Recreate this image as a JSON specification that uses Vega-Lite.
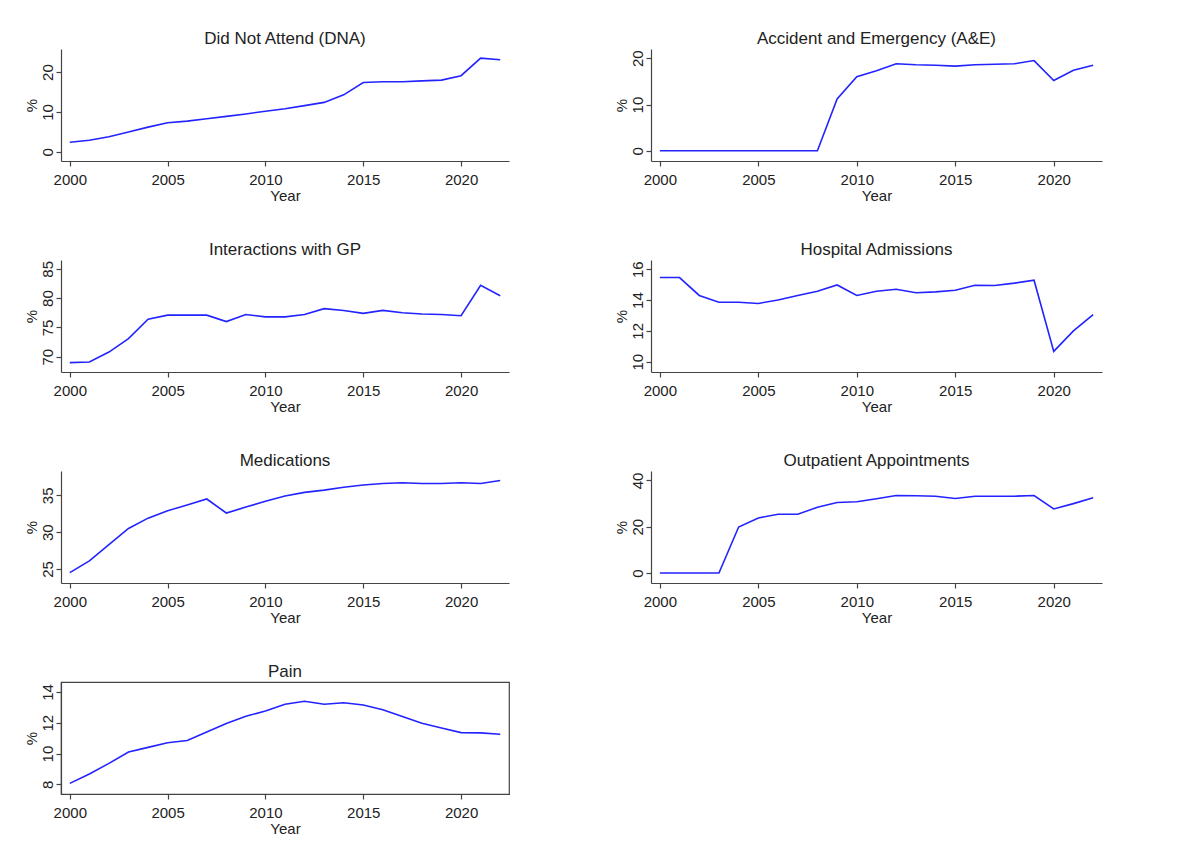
{
  "$schema": "https://vega.github.io/schema/vega-lite/v6.json",
  "background": "white",
  "padding": {"left": 23, "top": 30, "right": 5, "bottom": 5},
  "datasets": {
    "t": [
      {"panel": "DNA", "year": 2000, "pct": 2.4}, {"panel": "DNA", "year": 2001, "pct": 2.9}, {"panel": "DNA", "year": 2002, "pct": 3.8}, {"panel": "DNA", "year": 2003, "pct": 5.0}, {"panel": "DNA", "year": 2004, "pct": 6.2}, {"panel": "DNA", "year": 2005, "pct": 7.3}, {"panel": "DNA", "year": 2006, "pct": 7.7}, {"panel": "DNA", "year": 2007, "pct": 8.3}, {"panel": "DNA", "year": 2008, "pct": 8.9}, {"panel": "DNA", "year": 2009, "pct": 9.5}, {"panel": "DNA", "year": 2010, "pct": 10.2}, {"panel": "DNA", "year": 2011, "pct": 10.8}, {"panel": "DNA", "year": 2012, "pct": 11.6}, {"panel": "DNA", "year": 2013, "pct": 12.4}, {"panel": "DNA", "year": 2014, "pct": 14.3}, {"panel": "DNA", "year": 2015, "pct": 17.4}, {"panel": "DNA", "year": 2016, "pct": 17.6}, {"panel": "DNA", "year": 2017, "pct": 17.6}, {"panel": "DNA", "year": 2018, "pct": 17.8}, {"panel": "DNA", "year": 2019, "pct": 18.0}, {"panel": "DNA", "year": 2020, "pct": 19.1}, {"panel": "DNA", "year": 2021, "pct": 23.5}, {"panel": "DNA", "year": 2022, "pct": 23.1},
      {"panel": "AE", "year": 2000, "pct": 0}, {"panel": "AE", "year": 2001, "pct": 0}, {"panel": "AE", "year": 2002, "pct": 0}, {"panel": "AE", "year": 2003, "pct": 0}, {"panel": "AE", "year": 2004, "pct": 0}, {"panel": "AE", "year": 2005, "pct": 0}, {"panel": "AE", "year": 2006, "pct": 0}, {"panel": "AE", "year": 2007, "pct": 0}, {"panel": "AE", "year": 2008, "pct": 0}, {"panel": "AE", "year": 2009, "pct": 11.2}, {"panel": "AE", "year": 2010, "pct": 16.0}, {"panel": "AE", "year": 2011, "pct": 17.3}, {"panel": "AE", "year": 2012, "pct": 18.8}, {"panel": "AE", "year": 2013, "pct": 18.6}, {"panel": "AE", "year": 2014, "pct": 18.5}, {"panel": "AE", "year": 2015, "pct": 18.3}, {"panel": "AE", "year": 2016, "pct": 18.6}, {"panel": "AE", "year": 2017, "pct": 18.7}, {"panel": "AE", "year": 2018, "pct": 18.8}, {"panel": "AE", "year": 2019, "pct": 19.5}, {"panel": "AE", "year": 2020, "pct": 15.2}, {"panel": "AE", "year": 2021, "pct": 17.4}, {"panel": "AE", "year": 2022, "pct": 18.5},
      {"panel": "GP", "year": 2000, "pct": 69.0}, {"panel": "GP", "year": 2001, "pct": 69.1}, {"panel": "GP", "year": 2002, "pct": 70.8}, {"panel": "GP", "year": 2003, "pct": 73.1}, {"panel": "GP", "year": 2004, "pct": 76.4}, {"panel": "GP", "year": 2005, "pct": 77.1}, {"panel": "GP", "year": 2006, "pct": 77.1}, {"panel": "GP", "year": 2007, "pct": 77.1}, {"panel": "GP", "year": 2008, "pct": 76.0}, {"panel": "GP", "year": 2009, "pct": 77.2}, {"panel": "GP", "year": 2010, "pct": 76.8}, {"panel": "GP", "year": 2011, "pct": 76.8}, {"panel": "GP", "year": 2012, "pct": 77.2}, {"panel": "GP", "year": 2013, "pct": 78.2}, {"panel": "GP", "year": 2014, "pct": 77.9}, {"panel": "GP", "year": 2015, "pct": 77.4}, {"panel": "GP", "year": 2016, "pct": 77.9}, {"panel": "GP", "year": 2017, "pct": 77.5}, {"panel": "GP", "year": 2018, "pct": 77.3}, {"panel": "GP", "year": 2019, "pct": 77.2}, {"panel": "GP", "year": 2020, "pct": 77.0}, {"panel": "GP", "year": 2021, "pct": 82.2}, {"panel": "GP", "year": 2022, "pct": 80.4},
      {"panel": "HA", "year": 2000, "pct": 15.46}, {"panel": "HA", "year": 2001, "pct": 15.46}, {"panel": "HA", "year": 2002, "pct": 14.3}, {"panel": "HA", "year": 2003, "pct": 13.86}, {"panel": "HA", "year": 2004, "pct": 13.86}, {"panel": "HA", "year": 2005, "pct": 13.78}, {"panel": "HA", "year": 2006, "pct": 14.0}, {"panel": "HA", "year": 2007, "pct": 14.3}, {"panel": "HA", "year": 2008, "pct": 14.57}, {"panel": "HA", "year": 2009, "pct": 14.98}, {"panel": "HA", "year": 2010, "pct": 14.3}, {"panel": "HA", "year": 2011, "pct": 14.57}, {"panel": "HA", "year": 2012, "pct": 14.7}, {"panel": "HA", "year": 2013, "pct": 14.47}, {"panel": "HA", "year": 2014, "pct": 14.53}, {"panel": "HA", "year": 2015, "pct": 14.64}, {"panel": "HA", "year": 2016, "pct": 14.96}, {"panel": "HA", "year": 2017, "pct": 14.94}, {"panel": "HA", "year": 2018, "pct": 15.1}, {"panel": "HA", "year": 2019, "pct": 15.29}, {"panel": "HA", "year": 2020, "pct": 10.67}, {"panel": "HA", "year": 2021, "pct": 12.0}, {"panel": "HA", "year": 2022, "pct": 13.06},
      {"panel": "MED", "year": 2000, "pct": 24.5}, {"panel": "MED", "year": 2001, "pct": 26.1}, {"panel": "MED", "year": 2002, "pct": 28.3}, {"panel": "MED", "year": 2003, "pct": 30.5}, {"panel": "MED", "year": 2004, "pct": 31.9}, {"panel": "MED", "year": 2005, "pct": 32.9}, {"panel": "MED", "year": 2006, "pct": 33.7}, {"panel": "MED", "year": 2007, "pct": 34.5}, {"panel": "MED", "year": 2008, "pct": 32.6}, {"panel": "MED", "year": 2009, "pct": 33.4}, {"panel": "MED", "year": 2010, "pct": 34.2}, {"panel": "MED", "year": 2011, "pct": 34.9}, {"panel": "MED", "year": 2012, "pct": 35.4}, {"panel": "MED", "year": 2013, "pct": 35.7}, {"panel": "MED", "year": 2014, "pct": 36.1}, {"panel": "MED", "year": 2015, "pct": 36.4}, {"panel": "MED", "year": 2016, "pct": 36.6}, {"panel": "MED", "year": 2017, "pct": 36.7}, {"panel": "MED", "year": 2018, "pct": 36.6}, {"panel": "MED", "year": 2019, "pct": 36.6}, {"panel": "MED", "year": 2020, "pct": 36.7}, {"panel": "MED", "year": 2021, "pct": 36.6}, {"panel": "MED", "year": 2022, "pct": 37.0},
      {"panel": "OP", "year": 2000, "pct": 0}, {"panel": "OP", "year": 2001, "pct": 0}, {"panel": "OP", "year": 2002, "pct": 0}, {"panel": "OP", "year": 2003, "pct": 0}, {"panel": "OP", "year": 2004, "pct": 19.9}, {"panel": "OP", "year": 2005, "pct": 23.8}, {"panel": "OP", "year": 2006, "pct": 25.4}, {"panel": "OP", "year": 2007, "pct": 25.4}, {"panel": "OP", "year": 2008, "pct": 28.4}, {"panel": "OP", "year": 2009, "pct": 30.5}, {"panel": "OP", "year": 2010, "pct": 30.8}, {"panel": "OP", "year": 2011, "pct": 32.1}, {"panel": "OP", "year": 2012, "pct": 33.5}, {"panel": "OP", "year": 2013, "pct": 33.4}, {"panel": "OP", "year": 2014, "pct": 33.2}, {"panel": "OP", "year": 2015, "pct": 32.2}, {"panel": "OP", "year": 2016, "pct": 33.2}, {"panel": "OP", "year": 2017, "pct": 33.2}, {"panel": "OP", "year": 2018, "pct": 33.2}, {"panel": "OP", "year": 2019, "pct": 33.5}, {"panel": "OP", "year": 2020, "pct": 27.7}, {"panel": "OP", "year": 2021, "pct": 30.0}, {"panel": "OP", "year": 2022, "pct": 32.5},
      {"panel": "PAIN", "year": 2000, "pct": 8.06}, {"panel": "PAIN", "year": 2001, "pct": 8.67}, {"panel": "PAIN", "year": 2002, "pct": 9.36}, {"panel": "PAIN", "year": 2003, "pct": 10.1}, {"panel": "PAIN", "year": 2004, "pct": 10.4}, {"panel": "PAIN", "year": 2005, "pct": 10.7}, {"panel": "PAIN", "year": 2006, "pct": 10.85}, {"panel": "PAIN", "year": 2007, "pct": 11.4}, {"panel": "PAIN", "year": 2008, "pct": 11.95}, {"panel": "PAIN", "year": 2009, "pct": 12.42}, {"panel": "PAIN", "year": 2010, "pct": 12.77}, {"panel": "PAIN", "year": 2011, "pct": 13.2}, {"panel": "PAIN", "year": 2012, "pct": 13.4}, {"panel": "PAIN", "year": 2013, "pct": 13.2}, {"panel": "PAIN", "year": 2014, "pct": 13.3}, {"panel": "PAIN", "year": 2015, "pct": 13.15}, {"panel": "PAIN", "year": 2016, "pct": 12.85}, {"panel": "PAIN", "year": 2017, "pct": 12.4}, {"panel": "PAIN", "year": 2018, "pct": 11.97}, {"panel": "PAIN", "year": 2019, "pct": 11.66}, {"panel": "PAIN", "year": 2020, "pct": 11.36}, {"panel": "PAIN", "year": 2021, "pct": 11.34}, {"panel": "PAIN", "year": 2022, "pct": 11.25}
    ]
  },
  "data": {"name": "t"},
  "columns": 2,
  "spacing": {"row": 99, "column": 142},
  "bounds": "flush",
  "concat": [
    {
      "title": "Did Not Attend (DNA)",
      "width": 448, "height": 112,
      "transform": [{"filter": "datum.panel === 'DNA'"}],
      "mark": {"type": "line"},
      "encoding": {
        "x": {"field": "year", "type": "quantitative", "title": "Year", "scale": {"domain": [1999.55, 2022.45], "nice": false, "zero": false}, "axis": {"values": [2000, 2005, 2010, 2015, 2020], "format": "d"}},
        "y": {"field": "pct", "type": "quantitative", "title": "%", "scale": {"domain": [-2.3, 25.8], "nice": false, "zero": false}, "axis": {"values": [0, 10, 20]}}
      }
    },
    {
      "title": "Accident and Emergency (A&E)",
      "width": 451, "height": 112,
      "transform": [{"filter": "datum.panel === 'AE'"}],
      "mark": {"type": "line"},
      "encoding": {
        "x": {"field": "year", "type": "quantitative", "title": "Year", "scale": {"domain": [1999.55, 2022.45], "nice": false, "zero": false}, "axis": {"values": [2000, 2005, 2010, 2015, 2020], "format": "d"}},
        "y": {"field": "pct", "type": "quantitative", "title": "%", "scale": {"domain": [-2.2, 22], "nice": false, "zero": false}, "axis": {"values": [0, 10, 20]}}
      }
    },
    {
      "title": "Interactions with GP",
      "width": 448, "height": 112,
      "transform": [{"filter": "datum.panel === 'GP'"}],
      "mark": {"type": "line"},
      "encoding": {
        "x": {"field": "year", "type": "quantitative", "title": "Year", "scale": {"domain": [1999.55, 2022.45], "nice": false, "zero": false}, "axis": {"values": [2000, 2005, 2010, 2015, 2020], "format": "d"}},
        "y": {"field": "pct", "type": "quantitative", "title": "%", "scale": {"domain": [67.4, 86.5], "nice": false, "zero": false}, "axis": {"values": [70, 75, 80, 85]}}
      }
    },
    {
      "title": "Hospital Admissions",
      "width": 451, "height": 112,
      "transform": [{"filter": "datum.panel === 'HA'"}],
      "mark": {"type": "line"},
      "encoding": {
        "x": {"field": "year", "type": "quantitative", "title": "Year", "scale": {"domain": [1999.55, 2022.45], "nice": false, "zero": false}, "axis": {"values": [2000, 2005, 2010, 2015, 2020], "format": "d"}},
        "y": {"field": "pct", "type": "quantitative", "title": "%", "scale": {"domain": [9.33, 16.6], "nice": false, "zero": false}, "axis": {"values": [10, 12, 14, 16]}}
      }
    },
    {
      "title": "Medications",
      "width": 448, "height": 112,
      "transform": [{"filter": "datum.panel === 'MED'"}],
      "mark": {"type": "line"},
      "encoding": {
        "x": {"field": "year", "type": "quantitative", "title": "Year", "scale": {"domain": [1999.55, 2022.45], "nice": false, "zero": false}, "axis": {"values": [2000, 2005, 2010, 2015, 2020], "format": "d"}},
        "y": {"field": "pct", "type": "quantitative", "title": "%", "scale": {"domain": [23.1, 38.3], "nice": false, "zero": false}, "axis": {"values": [25, 30, 35]}}
      }
    },
    {
      "title": "Outpatient Appointments",
      "width": 451, "height": 112,
      "transform": [{"filter": "datum.panel === 'OP'"}],
      "mark": {"type": "line"},
      "encoding": {
        "x": {"field": "year", "type": "quantitative", "title": "Year", "scale": {"domain": [1999.55, 2022.45], "nice": false, "zero": false}, "axis": {"values": [2000, 2005, 2010, 2015, 2020], "format": "d"}},
        "y": {"field": "pct", "type": "quantitative", "title": "%", "scale": {"domain": [-4.3, 44.1], "nice": false, "zero": false}, "axis": {"values": [0, 20, 40]}}
      }
    },
    {
      "title": "Pain",
      "width": 448, "height": 112,
      "view": {"stroke": "#444", "strokeWidth": 1.2},
      "transform": [{"filter": "datum.panel === 'PAIN'"}],
      "mark": {"type": "line"},
      "encoding": {
        "x": {"field": "year", "type": "quantitative", "title": "Year", "scale": {"domain": [1999.55, 2022.45], "nice": false, "zero": false}, "axis": {"values": [2000, 2005, 2010, 2015, 2020], "format": "d"}},
        "y": {"field": "pct", "type": "quantitative", "title": "%", "scale": {"domain": [7.37, 14.65], "nice": false, "zero": false}, "axis": {"values": [8, 10, 12, 14]}}
      }
    }
  ],
  "config": {
    "font": "Liberation Sans",
    "view": {"stroke": null},
    "line": {"color": "#2323ff", "strokeWidth": 1.6},
    "title": {"fontSize": 17, "fontWeight": "normal", "font": "Liberation Sans", "color": "#222", "offset": 1},
    "axis": {
      "grid": false,
      "labelFont": "Liberation Sans", "titleFont": "Liberation Sans",
      "labelFontSize": 15, "titleFontSize": 15, "titleFontWeight": "normal",
      "labelColor": "#222", "titleColor": "#222",
      "domainColor": "#444", "tickColor": "#444", "domainWidth": 1.2, "tickWidth": 1.2,
      "tickSize": 5
    },
    "axisX": {"labelPadding": 6, "titlePadding": 1},
    "axisY": {"labelAngle": 270, "labelAlign": "center", "labelBaseline": "bottom", "labelPadding": 1, "titlePadding": 1}
  }
}
